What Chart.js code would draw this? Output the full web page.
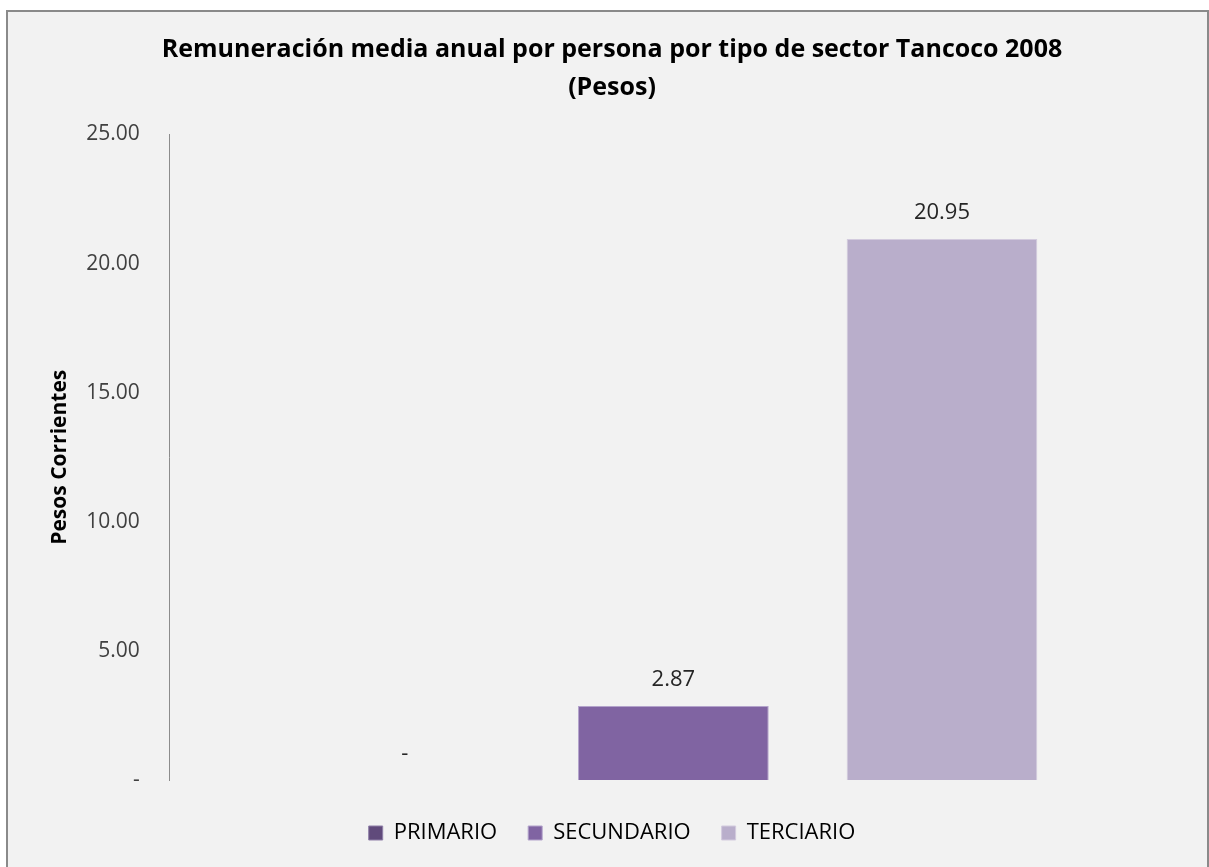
<!DOCTYPE html>
<html>
<head>
<meta charset="utf-8">
<script src="https://cdn.jsdelivr.net/npm/chart.js@4"></script>
<style>
  html, body { margin: 0; padding: 0; background: #fff; }
  #wrap { width: 1209px; height: 867px; }
</style>
</head>
<body>
<div id="wrap"><canvas id="sectorChart"></canvas></div>
<script>
var sectores = ['PRIMARIO', 'SECUNDARIO', 'TERCIARIO'];
var remuneracion = [0, 2.87, 20.95];
var colores = ['#604a7b', '#8064a2', '#b9aecb'];
var bordes = ['#8f7fa8', '#b3a3cb', '#d3cbde'];
var yTicks = [0, 5, 10, 15, 20, 25];

function formato(v) {
	return v === 0 ? '-' : v.toFixed(2);
}

// marco gris y fondo del grafico
var marco = {
	id: 'marco',
	beforeDraw: function (chart) {
		var c = chart.ctx;
		c.save();
		c.fillStyle = '#ffffff';
		c.fillRect(0, 0, chart.width, chart.height);
		c.fillStyle = '#f2f2f2';
		c.fillRect(6, 10, chart.width - 6, chart.height);
		c.strokeStyle = '#8a8a8a';
		c.lineWidth = 2;
		c.beginPath();
		c.moveTo(7, chart.height);
		c.lineTo(7, 11);
		c.lineTo(chart.width - 1, 11);
		c.lineTo(chart.width - 1, chart.height);
		c.stroke();
		c.restore();
	}
};

// etiquetas de valor sobre las barras
var etiquetas = {
	id: 'etiquetas',
	afterDatasetsDraw: function (chart) {
		var c = chart.ctx;
		c.save();
		c.font = '22px "Open Sans"';
		c.fillStyle = '#262626';
		c.textAlign = 'center';
		c.textBaseline = 'middle';
		chart.data.datasets.forEach(function (ds, i) {
			var bar = chart.getDatasetMeta(i).data[0];
			c.fillText(formato(ds.data[0]), bar.x, bar.y - 26);
		});
		c.restore();
	}
};

var ctx = document.getElementById('sectorChart').getContext('2d');
var sectorChart = new Chart(ctx, {
	type: 'bar',
	data: {
		labels: [''],
		datasets: sectores.map(function (s, i) {
			return {
				label: s,
				data: [remuneracion[i]],
				backgroundColor: colores[i],
				borderColor: bordes[i],
				borderWidth: 1
			};
		})
	},
	options: {
		responsive: true,
		maintainAspectRatio: false,
		animation: false,
		layout: { padding: { left: 47, right: 32, top: 16, bottom: 13 } },
		datasets: { bar: { categoryPercentage: 0.8, barPercentage: 0.71 } },
		scales: {
			x: {
				grid: { display: false, drawTicks: false },
				border: { display: false },
				ticks: { display: false },
				title: { display: true, text: '', font: { size: 11, lineHeight: 1 }, padding: 0 }
			},
			y: {
				min: 0,
				max: 25,
				afterBuildTicks: function (axis) {
					axis.ticks = yTicks.map(function (v) { return { value: v }; });
				},
				grid: { display: false, drawTicks: false },
				border: { display: true, color: '#8c8c8c', width: 1 },
				ticks: {
					padding: 30,
					color: '#404040',
					font: { family: 'Open Sans', size: 21 },
					callback: function (v) { return formato(v); }
				},
				title: {
					display: true,
					text: 'Pesos Corrientes',
					color: '#000000',
					font: { family: 'Open Sans', size: 21, weight: 'bold', lineHeight: 1.2 },
					padding: { top: 0, bottom: -16 }
				}
			}
		},
		plugins: {
			title: {
				display: true,
				text: ['Remuneración media anual por persona por tipo de sector Tancoco 2008', '(Pesos)'],
				color: '#000000',
				font: { family: 'Open Sans', size: 25, weight: 'bold', lineHeight: 1.55 },
				padding: { top: 14, bottom: 27 }
			},
			legend: {
				position: 'bottom',
				labels: {
					boxWidth: 14,
					boxHeight: 14,
					padding: 31,
					color: '#000000',
					font: { family: 'Open Sans', size: 22 }
				}
			},
			tooltip: { enabled: false }
		}
	},
	plugins: [marco, etiquetas]
});

function resizeChart() {
	sectorChart.resize();
}

window.addEventListener('resize', resizeChart);
</script>
</body>
</html>
